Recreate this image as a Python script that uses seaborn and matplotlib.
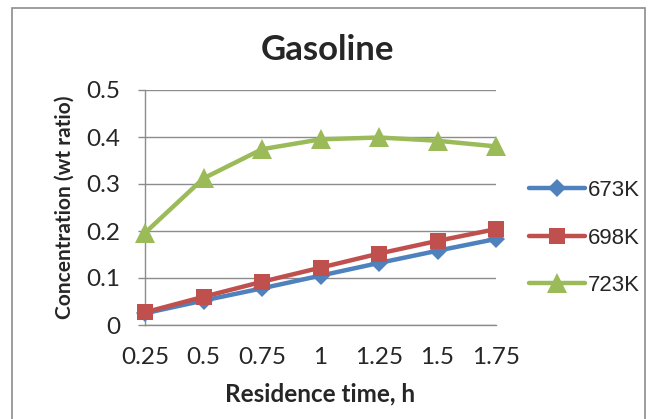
import matplotlib
matplotlib.use("Agg")
import matplotlib.pyplot as plt
from matplotlib.patches import Rectangle
import seaborn as sns
import pandas as pd

residence_time = [0.25, 0.5, 0.75, 1.0, 1.25, 1.5, 1.75]
tick_labels = ["0.25", "0.5", "0.75", "1", "1.25", "1.5", "1.75"]
conc_673 = [0.025, 0.052, 0.078, 0.105, 0.132, 0.158, 0.183]
conc_698 = [0.027, 0.060, 0.092, 0.122, 0.152, 0.179, 0.204]
conc_723 = [0.196, 0.312, 0.374, 0.395, 0.399, 0.392, 0.380]
series_names = ["673K", "698K", "723K"]
colors = ["#4F81BD", "#C0504D", "#9BBB59"]
markers = ["D", "s", "^"]
marker_sizes = [9, 12, 15]

df = pd.concat([
    pd.DataFrame({"time": residence_time, "conc": vals, "temp": name})
    for name, vals in zip(series_names, [conc_673, conc_698, conc_723])
], ignore_index=True)

sns.set_theme(style="white")
plt.rcParams["font.family"] = ["Lato", "DejaVu Sans"]

fig = plt.figure(figsize=(6.48, 4.19), dpi=100)
ax = fig.add_axes([145 / 648, 1 - 325 / 419, (496 - 145) / 648, (325 - 90) / 419])

sns.lineplot(data=df, x="time", y="conc", hue="temp", style="temp",
             palette=colors, markers=markers, dashes=False, linewidth=3.2,
             markeredgewidth=0, legend=False, ax=ax, sort=False)

for line, ms in zip(ax.lines, marker_sizes):
    line.set_markersize(ms)
    line.set_clip_on(False)
    line.set_zorder(5)

ax.set_xlim(0.25, 1.75)
ax.set_ylim(0, 0.5)
ax.set_xticks(residence_time)
ax.set_xticklabels(tick_labels)
ax.set_yticks([0, 0.1, 0.2, 0.3, 0.4, 0.5])
ax.set_yticklabels(["0", "0.1", "0.2", "0.3", "0.4", "0.5"])
ax.yaxis.grid(True, color="#8C8C8C", linewidth=1)
ax.xaxis.grid(False)
for side in ["top", "right"]:
    ax.spines[side].set_visible(False)
for side in ["left", "bottom"]:
    ax.spines[side].set_color("#8C8C8C")
    ax.spines[side].set_linewidth(1)
ax.tick_params(axis="y", which="major", length=5, color="#8C8C8C", width=1,
               labelsize=17.5, pad=13, left=True, direction="out")
ax.tick_params(axis="x", length=0, labelsize=17.5, pad=16)

ax.set_xlabel("Residence time, h", fontsize=17.5, fontweight="bold", labelpad=10)
ax.set_ylabel("Concentration (wt ratio)", fontsize=15, fontweight="bold", labelpad=8)
fig.text(327 / 648, 1 - 50 / 419, "Gasoline", ha="center", va="center",
         fontsize=25, fontweight="bold")

# Legend on the right
handles = [plt.Line2D([], [], color=c, marker=m, markersize=ms, linewidth=3.2,
                      markeredgewidth=0)
           for c, m, ms in zip(colors, markers, marker_sizes)]
leg = fig.legend(handles, series_names, loc="center left",
                 bbox_to_anchor=(509 / 648, 1 - 238 / 419), frameon=False,
                 handlelength=2.5, handletextpad=0.15, labelspacing=1.2,
                 prop={"family": "Liberation Sans", "size": 16})

# Chart frame
fig.patches.append(Rectangle((12 / 648, -0.02), (645 - 12) / 648, 1 - 8 / 419 + 0.02,
                             transform=fig.transFigure, fill=False,
                             edgecolor="#8C8C8C", linewidth=1.2))

fig.savefig("out.png", dpi=100)
